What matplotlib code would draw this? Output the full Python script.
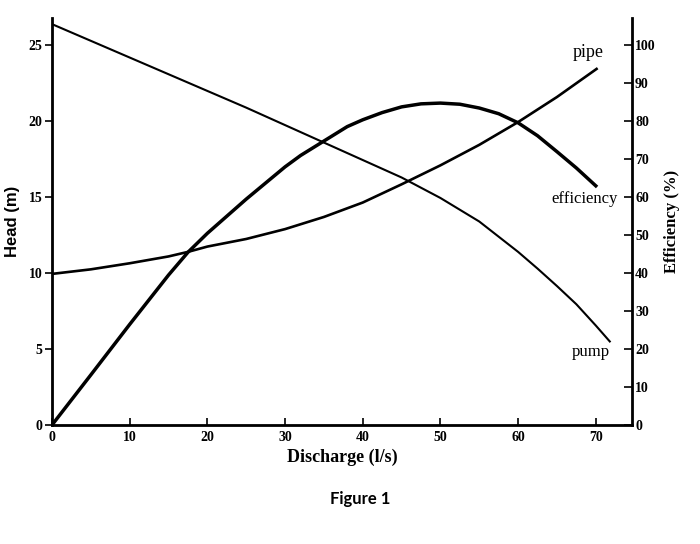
import matplotlib.pyplot as plt

# values
pump_q = [0, 5, 10, 15, 20, 25, 30, 35, 40, 45, 50, 55, 60, 62.5, 65, 67.5, 70, 71.8]
pump_head = [26.4, 25.3, 24.2, 23.1, 22.0, 20.9, 19.75, 18.6, 17.45, 16.3, 14.95, 13.4, 11.4,
             10.3, 9.15, 7.95, 6.55, 5.5]
pipe_q = [0, 5, 10, 15, 17.5, 20, 25, 30, 35, 40, 45, 50, 55, 60, 65, 70.1]
pipe_head = [9.95, 10.25, 10.65, 11.1, 11.4, 11.75, 12.25, 12.9, 13.7, 14.65, 15.85, 17.1,
             18.45, 19.95, 21.6, 23.45]
eff_q = [0, 5, 10, 15, 17.5, 20, 25, 30, 32, 35, 38, 40, 42.5, 45, 47.5, 50, 52.5, 55, 57.5,
         60, 62.5, 65, 67.5, 70]
efficiency = [0, 13.2, 26.5, 39.5, 45.5, 50.5, 59.5, 68, 71, 74.8, 78.6, 80.4, 82.3, 83.8,
              84.6, 84.8, 84.5, 83.5, 82, 79.6, 76.2, 72, 67.7, 63]

head_ticks = [0, 5, 10, 15, 20, 25]
eff_ticks = [0, 10, 20, 30, 40, 50, 60, 70, 80, 90, 100]
q_ticks = [0, 10, 20, 30, 40, 50, 60, 70]

serif = 'Liberation Serif'

fig = plt.figure(figsize=(7, 5.44), dpi=100)
ax = fig.add_axes([0.0743, 0.2188, 0.829, 0.748])
ax2 = ax.twinx()

ax.plot(pump_q, pump_head, color='black', lw=1.5)
ax.plot(pipe_q, pipe_head, color='black', lw=1.9)
ax2.plot(eff_q, efficiency, color='black', lw=2.5)

ax.set_xlim(0, 74.7)
ax.set_ylim(0, 26.8)
ax2.set_ylim(0, 107.2)

ax.spines['top'].set_visible(False)
ax2.spines['top'].set_visible(False)
for s in ['left', 'bottom']:
    ax.spines[s].set_linewidth(2)
ax2.spines['right'].set_linewidth(2)

ax.set_xticks(q_ticks)
ax.set_yticks(head_ticks)
ax2.set_yticks(eff_ticks)
ax.tick_params(axis='x', direction='in', length=5, width=1.2, pad=4)
ax.tick_params(axis='y', direction='out', length=5, width=1.2, pad=2)
ax2.tick_params(axis='y', direction='in', length=6, width=1.2, pad=2)
for lab in ax.get_xticklabels() + ax.get_yticklabels() + ax2.get_yticklabels():
    lab.set_fontfamily(serif)
    lab.set_fontweight('bold')
    lab.set_fontsize(10)

ax.set_xlabel('Discharge (l/s)', fontfamily=serif, fontweight='bold', fontsize=13, labelpad=4)
ax.set_ylabel('Head (m)', fontfamily='Liberation Sans', fontweight='bold', fontsize=12, labelpad=6)
ax2.set_ylabel('Efficiency (%)', fontfamily=serif, fontweight='bold', fontsize=12, labelpad=6)

ax.text(69, 24.5, 'pipe', fontfamily=serif, fontsize=13, ha='center', va='center')
ax.text(68.5, 14.9, 'efficiency', fontfamily=serif, fontsize=12, ha='center', va='center')
ax.text(69.4, 4.8, 'pump', fontfamily=serif, fontsize=12, ha='center', va='center')

fig.text(0.514, 0.083, 'Figure 1', fontfamily='Lato', fontweight='bold', fontsize=12, ha='center', va='center')

plt.savefig('out.png')
plt.close()
